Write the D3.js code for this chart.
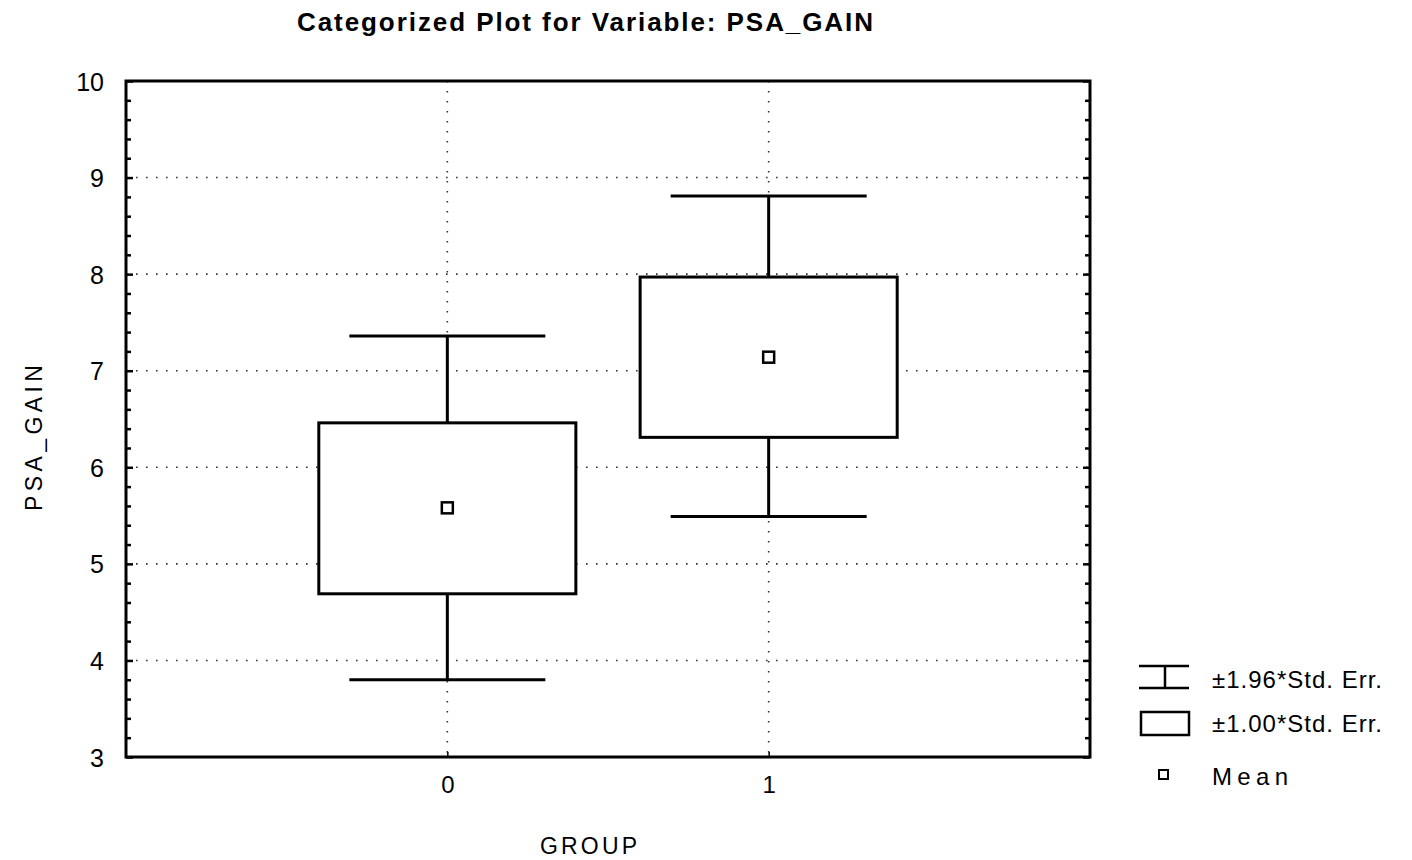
<!DOCTYPE html>
<html><head><meta charset="utf-8">
<script src="https://cdn.jsdelivr.net/npm/d3@7"></script>
<style>body{margin:0;background:#fff}svg{display:block}text{font-family:"Liberation Sans",Arial,sans-serif;fill:#000}</style>
</head><body><svg id="c" width="1412" height="860"></svg>
<script>
const groups = ["0","1"];
const groupPos = [0, 1];
const meanVals = [5.58, 7.14];
const seLow = [4.69, 6.31];
const seHigh = [6.46, 7.97];
const ciLow = [3.80, 5.49];
const ciHigh = [7.36, 8.81];
const yTicks = [3,4,5,6,7,8,9,10];
const legendLabels = ["±1.96*Std. Err.", "±1.00*Std. Err.", "Mean"];

const svg = d3.select("#c");
const L=126, R=1090, T=81, B=757;
const x = d3.scaleLinear().domain([-1,2]).range([L,R]);
const y = d3.scaleLinear().domain([3,10]).range([B,T]);
const boxW = 0.8, capW = 0.61;

// grid
const g = svg.append("g");
g.selectAll(".hg").data(yTicks.filter(v=>v>3&&v<10)).join("line")
 .attr("x1",L).attr("x2",R).attr("y1",d=>y(d)).attr("y2",d=>y(d))
 .attr("stroke","#333").attr("stroke-width",1.6).attr("stroke-dasharray","1.6,8.4");
g.selectAll(".vg").data(groupPos).join("line")
 .attr("x1",d=>x(d)).attr("x2",d=>x(d)).attr("y1",T).attr("y2",B)
 .attr("stroke","#333").attr("stroke-width",1.6).attr("stroke-dasharray","1.6,8.4");

// whiskers and boxes
const w = svg.append("g").attr("stroke","#000").attr("stroke-width",3).attr("fill","none");
groupPos.forEach((p,i)=>{
  w.append("line").attr("x1",x(p)).attr("x2",x(p)).attr("y1",y(ciLow[i])).attr("y2",y(ciHigh[i]));
  w.append("line").attr("x1",x(p-capW/2)).attr("x2",x(p+capW/2)).attr("y1",y(ciLow[i])).attr("y2",y(ciLow[i]));
  w.append("line").attr("x1",x(p-capW/2)).attr("x2",x(p+capW/2)).attr("y1",y(ciHigh[i])).attr("y2",y(ciHigh[i]));
  w.append("rect").attr("x",x(p-boxW/2)).attr("width",x(p+boxW/2)-x(p-boxW/2))
   .attr("y",y(seHigh[i])).attr("height",y(seLow[i])-y(seHigh[i])).attr("fill","#fff");
  w.append("rect").attr("x",x(p)-5.5).attr("y",y(meanVals[i])-5.5).attr("width",11).attr("height",11)
   .attr("fill","#fff").attr("stroke-width",2.5);
});

// frame
svg.append("rect").attr("x",L).attr("y",T).attr("width",R-L).attr("height",B-T)
 .attr("fill","none").attr("stroke","#000").attr("stroke-width",3);

// y axis ticks (inside), both sides
const minor = d3.range(3,10.001,0.2).filter(v=>Math.abs(v-Math.round(v))>0.01);
[[d3.axisRight(y).tickValues(yTicks).tickSize(7),L],[d3.axisRight(y).tickValues(minor).tickSize(5),L],
 [d3.axisLeft(y).tickValues(yTicks).tickSize(7),R],[d3.axisLeft(y).tickValues(minor).tickSize(5),R]].forEach(([a,px])=>{
  const ag = svg.append("g").attr("transform",`translate(${px},0)`).call(a.tickFormat(""));
  ag.select(".domain").remove();
  ag.selectAll("line").attr("stroke","#000").attr("stroke-width",2.5);
});
// y tick labels
svg.append("g").attr("transform",`translate(${L},0)`)
 .call(d3.axisLeft(y).tickValues(yTicks).tickSize(0).tickPadding(22).tickFormat(d3.format("d")))
 .call(a=>a.select(".domain").remove())
 .call(a=>a.attr("font-size",null).attr("font-family",null))
 .selectAll("text").style("font-size","25px").attr("dy","0.36em");

// x axis
const xa = svg.append("g").attr("transform",`translate(0,${B})`)
 .call(d3.axisTop(x).tickValues(groupPos).tickSize(5).tickFormat(""));
xa.select(".domain").remove();
xa.selectAll("line").attr("stroke","#000").attr("stroke-width",1.5);
svg.append("g").attr("transform",`translate(0,${B})`)
 .call(d3.axisBottom(x).tickValues(groupPos).tickSize(0).tickPadding(22).tickFormat((d,i)=>groups[i]))
 .call(a=>a.select(".domain").remove())
 .call(a=>a.attr("font-size",null).attr("font-family",null))
 .selectAll("text").style("font-size","24px").attr("dy","0.6em");

// titles
svg.append("text").attr("x",297).attr("y",31)
 .attr("textLength",576).attr("lengthAdjust","spacing")
 .style("font-size","26px").style("font-weight","bold")
 .text("Categorized Plot for Variable: PSA_GAIN");
svg.append("text").attr("x",540).attr("y",854)
 .attr("textLength",97).attr("lengthAdjust","spacing")
 .style("font-size","23px").text("GROUP");
svg.append("text").attr("transform","translate(42,511) rotate(-90)")
 .attr("textLength",146).attr("lengthAdjust","spacing")
 .style("font-size","23px").text("PSA_GAIN");

// legend
const lg = svg.append("g").attr("stroke","#000").attr("fill","none").attr("stroke-width",2.5);
lg.append("line").attr("x1",1139).attr("x2",1189).attr("y1",666).attr("y2",666);
lg.append("line").attr("x1",1139).attr("x2",1189).attr("y1",688).attr("y2",688);
lg.append("line").attr("x1",1165).attr("x2",1165).attr("y1",666).attr("y2",688);
lg.append("rect").attr("x",1141).attr("y",712).attr("width",48).attr("height",23);
lg.append("rect").attr("x",1159).attr("y",770).attr("width",9).attr("height",9).attr("stroke-width",2);
const ly = [688, 732, 785];
const lw = [170, 170, 76];
svg.selectAll(".lt").data(legendLabels).join("text")
 .attr("x",1212).attr("y",(d,i)=>ly[i]).attr("textLength",(d,i)=>lw[i]).attr("lengthAdjust","spacing")
 .style("font-size","24px")
 .text(d=>d);
</script></body></html>
